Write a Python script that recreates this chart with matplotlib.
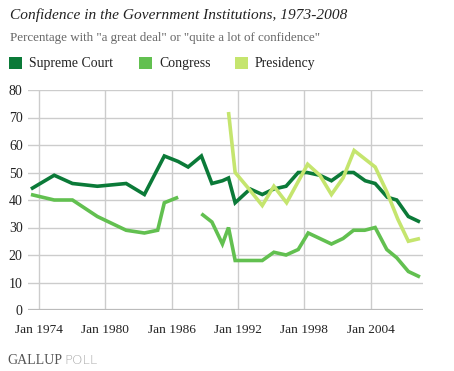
import numpy as np
import matplotlib
matplotlib.use("Agg")
import matplotlib.pyplot as plt

# ---- data ----
sc_x = [1973.3, 1975.4, 1977.05, 1979.3, 1981.9, 1983.55, 1985.35, 1986.6, 1987.5, 1988.7,
        1989.65, 1990.6, 1991.15, 1991.75, 1993.1, 1994.2, 1995.25, 1996.35, 1997.45, 1998.25,
        1999.4, 2000.45, 2001.5, 2002.45, 2003.5, 2004.4, 2005.5, 2006.35, 2007.4, 2008.45]
sc_y = [44, 49, 46, 45, 46, 42, 56, 54, 52, 56,
        46, 47, 48, 39, 44, 42, 44, 45, 50, 50,
        49, 47, 50, 50, 47, 46, 41, 40, 34, 32]

cg_x = [1973.3, 1975.4, 1977.05, 1979.3, 1981.9, 1983.55, 1984.75, 1985.35, 1986.6, 1987.5,
        1988.7, 1989.65, 1990.6, 1991.15, 1991.75, 1993.1, 1994.2, 1995.25, 1996.35, 1997.45,
        1998.35, 1999.4, 2000.45, 2001.5, 2002.45, 2003.45, 2004.4, 2005.45, 2006.35, 2007.4, 2008.45]
cg_y = [42, 40, 40, 34, 29, 28, 29, 39, 41, np.nan,
        35, 32, 24, 30, 18, 18, 18, 21, 20, 22,
        28, 26, 24, 26, 29, 29, 30, 22, 19, 14, 12]

pr_x = [1991.15, 1991.75, 1993.0, 1994.2, 1995.25, 1996.4, 1998.3, 1999.4, 2000.45, 2001.5,
        2002.5, 2003.45, 2004.4, 2005.45, 2006.45, 2007.4, 2008.45]
pr_y = [72, 50, 44, 38, 45, 39, 53, 49, 42, 48,
        58, 55, 52, 43, 33, 25, 26]

tick_years = [1974, 1980, 1986, 1992, 1998, 2004]
tick_labels = ["Jan 1974", "Jan 1980", "Jan 1986", "Jan 1992", "Jan 1998", "Jan 2004"]
y_ticks = [0, 10, 20, 30, 40, 50, 60, 70, 80]

series_names = ["Supreme Court", "Congress", "Presidency"]
colors = ["#0b7a38", "#62c050", "#c5e56e"]

SERIF = ["Liberation Serif", "DejaVu Serif"]

W, H = 454, 371
fig = plt.figure(figsize=(W / 100, H / 100), dpi=100)
fig.patch.set_facecolor("white")

ax = fig.add_axes([28.3 / W, 61 / H, 395 / W, 220 / H])
ax.set_xlim(1973.06, 2008.75)
ax.set_ylim(0, 80)

for xs, ys, c in zip([sc_x, cg_x, pr_x], [sc_y, cg_y, pr_y], colors):
    ax.plot(xs, ys, color=c, lw=2.6, solid_joinstyle="miter", solid_capstyle="butt", zorder=3)

ax.set_xticks(tick_years)
ax.set_xticklabels(tick_labels, family=SERIF, fontsize=9.6, color="#222222")
ax.set_yticks(y_ticks)
ax.set_yticklabels([str(v) for v in y_ticks], family=SERIF, fontsize=10, color="#222222")
ax.tick_params(axis="x", length=0, pad=10)
ax.tick_params(axis="y", length=0, pad=4)

for v in y_ticks[1:]:
    ax.axhline(v, color="#cccccc", lw=1.0, zorder=1)
for t in tick_years:
    ax.axvline(t, color="#cccccc", lw=1.0, zorder=1)
ax.axhline(0, color="#bbbbbb", lw=1.6, zorder=2)

for s in ax.spines.values():
    s.set_visible(False)

# ---- titles ----
fig.text(10 / W, 1 - 15 / H, "Confidence in the Government Institutions, 1973-2008",
         family=SERIF, style="italic", fontsize=11.1, color="#222222", va="center", ha="left")
fig.text(10 / W, 1 - 38 / H, 'Percentage with "a great deal" or "quite a lot of confidence"',
         family=SERIF, fontsize=9.4, color="#666666", va="center", ha="left")

# ---- legend ----
leg_box_x = [9, 139, 235]
for bx, name, c in zip(leg_box_x, series_names, colors):
    fig.patches.append(plt.Rectangle((bx / W, 1 - 69 / H), 13 / W, 12 / H,
                                     transform=fig.transFigure, facecolor=c, edgecolor="none"))
    fig.text((bx + 20) / W, 1 - 63 / H, name, family=SERIF, fontsize=9.9,
             color="#222222", va="center", ha="left")

# ---- footer ----
t1 = fig.text(7 / W, 1 - 360 / H, "GALLUP", family=SERIF, fontsize=10,
              color="#555555", va="center", ha="left")
fig.canvas.draw()
bb = t1.get_window_extent()
fig.text((bb.x1 + 2) / W, 1 - 360 / H, "POLL", family=["DejaVu Sans"], fontsize=9.5,
         color="#aaaaaa", va="center", ha="left", fontweight="light")

fig.savefig("out.png", dpi=100, facecolor="white")
